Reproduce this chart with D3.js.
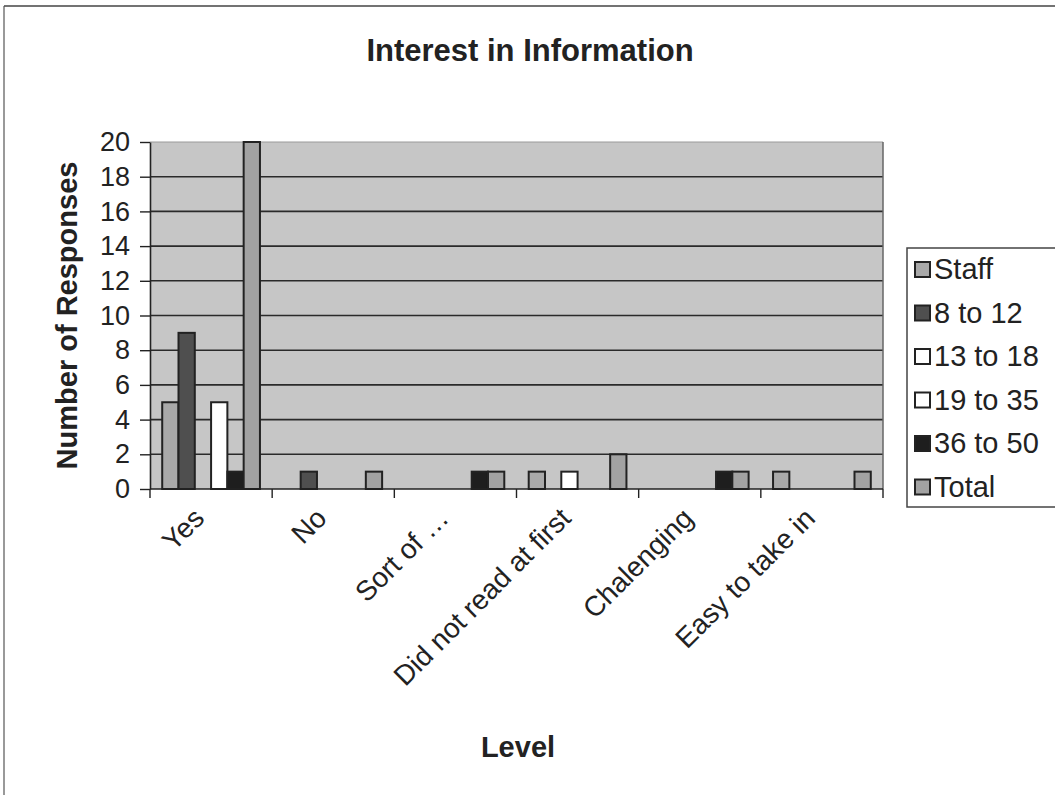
<!DOCTYPE html>
<html>
<head>
<meta charset="utf-8">
<script src="https://cdn.jsdelivr.net/npm/d3@7"></script>
<style>
  html, body { margin: 0; padding: 0; background: #fff; }
  svg { display: block; font-family: Arial, "Liberation Sans", sans-serif; }
</style>
</head>
<body>
<svg id="chart" width="1055" height="795"></svg>
<script>
// ---- data ----
const categories = ["Yes", "No", "Sort of …", "Did not read at first", "Chalenging", "Easy to take in"];
const seriesNames = ["Staff", "8 to 12", "13 to 18", "19 to 35", "36 to 50", "Total"];
const staff   = [5, 0, 0, 1, 0, 1];
const age8_12 = [9, 1, 0, 0, 0, 0];
const age13_18 = [0, 0, 0, 1, 0, 0];
const age19_35 = [5, 0, 0, 0, 0, 0];
const age36_50 = [1, 0, 1, 0, 1, 0];
const total   = [20, 1, 1, 2, 1, 1];
const yTicks = [0, 2, 4, 6, 8, 10, 12, 14, 16, 18, 20];

const seriesValues = [staff, age8_12, age13_18, age19_35, age36_50, total];
const seriesFill = ["#a9a9a9", "#4f4f4f", "#ffffff", "#ffffff", "#1e1e1e", "#a2a2a2"];

const svg = d3.select("#chart");

// outer frame (top and left edges visible)
svg.append("line").attr("x1", 4).attr("y1", 6).attr("x2", 1055).attr("y2", 6)
  .attr("stroke", "#444").attr("stroke-width", 1.5);
svg.append("line").attr("x1", 4).attr("y1", 6).attr("x2", 4).attr("y2", 795)
  .attr("stroke", "#555").attr("stroke-width", 1.2);

const plot = { left: 150, right: 883, top: 142, bottom: 489 };

const x = d3.scaleBand().domain(categories).range([plot.left, plot.right]).padding(0);
const xs = d3.scaleBand().domain(seriesNames).range([0, x.bandwidth()])
  .paddingInner(0).paddingOuter(0.75);
const y = d3.scaleLinear().domain([0, 20]).range([plot.bottom, plot.top]);

// plot background
svg.append("rect")
  .attr("x", plot.left).attr("y", plot.top)
  .attr("width", plot.right - plot.left).attr("height", plot.bottom - plot.top)
  .attr("fill", "#c6c6c6");

// gridlines
svg.append("g").selectAll("line")
  .data(yTicks.filter(d => d > 0 && d < 20))
  .join("line")
  .attr("x1", plot.left).attr("x2", plot.right)
  .attr("y1", d => y(d)).attr("y2", d => y(d))
  .attr("stroke", "#2a2a2a").attr("stroke-width", 1.6);
svg.append("line")
  .attr("x1", plot.left).attr("x2", plot.right)
  .attr("y1", y(20)).attr("y2", y(20))
  .attr("stroke", "#9a9a9a").attr("stroke-width", 1);
// right edge
svg.append("line")
  .attr("x1", plot.right).attr("x2", plot.right)
  .attr("y1", plot.top).attr("y2", plot.bottom)
  .attr("stroke", "#666").attr("stroke-width", 1.5);

// bars
const barData = [];
seriesNames.forEach((s, si) => {
  categories.forEach((c, ci) => {
    const v = seriesValues[si][ci];
    if (v > 0) barData.push({ s, si, c, v });
  });
});
svg.append("g").selectAll("rect")
  .data(barData)
  .join("rect")
  .attr("x", d => x(d.c) + xs(d.s))
  .attr("y", d => y(d.v))
  .attr("width", xs.bandwidth())
  .attr("height", d => y(0) - y(d.v))
  .attr("fill", d => seriesFill[d.si])
  .attr("stroke", "#222")
  .attr("stroke-width", 2);

// y axis
const yAxis = d3.axisLeft(y).tickValues(yTicks).tickSize(10).tickSizeOuter(0).tickPadding(10);
const gy = svg.append("g").attr("transform", `translate(${plot.left},0)`).call(yAxis);
gy.select(".domain").attr("stroke", "#222").attr("stroke-width", 1.6);
gy.selectAll(".tick line").attr("stroke", "#222").attr("stroke-width", 1.4);
gy.selectAll(".tick text").attr("font-size", 27).attr("fill", "#222")
  .attr("font-family", "Arial, 'Liberation Sans', sans-serif");

// x axis line and ticks at category boundaries
svg.append("line").attr("x1", plot.left).attr("x2", plot.right)
  .attr("y1", plot.bottom).attr("y2", plot.bottom)
  .attr("stroke", "#222").attr("stroke-width", 1.6);
const boundaries = categories.map(c => x(c)).concat([x.range()[1]]);
svg.append("g").selectAll("line").data(boundaries).join("line")
  .attr("x1", d => d).attr("x2", d => d)
  .attr("y1", plot.bottom).attr("y2", plot.bottom + 9)
  .attr("stroke", "#222").attr("stroke-width", 1.4);

// x labels, rotated
svg.append("g").selectAll("text").data(categories).join("text")
  .attr("transform", d => `translate(${x(d) + x.bandwidth() / 2 - 12},${plot.bottom + 24}) rotate(-45)`)
  .attr("text-anchor", "end")
  .attr("dy", "0.35em")
  .attr("font-size", 28)
  .attr("fill", "#222")
  .text(d => d);

// title
svg.append("text").attr("x", 530).attr("y", 61).attr("text-anchor", "middle")
  .attr("font-size", 31).attr("font-weight", "bold").attr("fill", "#222")
  .text("Interest in Information");

// axis titles
svg.append("text").attr("x", 518).attr("y", 757).attr("text-anchor", "middle")
  .attr("font-size", 29).attr("font-weight", "bold").attr("fill", "#222")
  .text("Level");
svg.append("text")
  .attr("transform", `translate(77,${(plot.top + plot.bottom) / 2}) rotate(-90)`)
  .attr("text-anchor", "middle")
  .attr("font-size", 29).attr("font-weight", "bold").attr("fill", "#222")
  .text("Number of Responses");

// legend
const lg = svg.append("g").attr("transform", "translate(907,248)");
lg.append("rect").attr("x", 0).attr("y", 0).attr("width", 160).attr("height", 259)
  .attr("fill", "#fff").attr("stroke", "#444").attr("stroke-width", 1.5);
const items = lg.selectAll("g.item").data(seriesNames).join("g").attr("class", "item")
  .attr("transform", (d, i) => `translate(0,${21 + i * 43.5})`);
items.append("rect").attr("x", 8).attr("y", -7).attr("width", 15).attr("height", 15)
  .attr("fill", (d, i) => seriesFill[i]).attr("stroke", "#222").attr("stroke-width", 2);
items.append("text").attr("x", 27).attr("y", 0).attr("dy", "0.36em")
  .attr("font-size", 29).attr("fill", "#222").text(d => d);
</script>
</body>
</html>
